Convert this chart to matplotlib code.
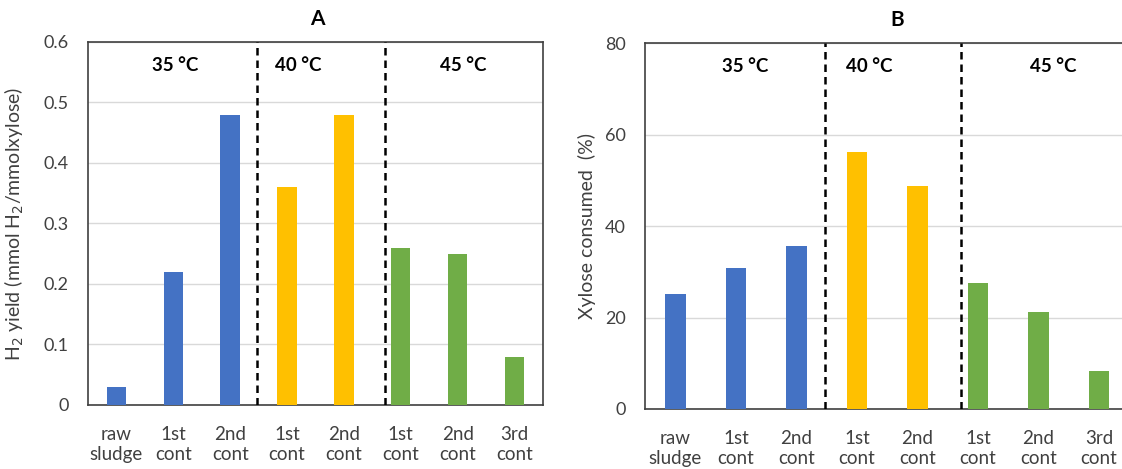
import numpy as np
import matplotlib
matplotlib.use("Agg")
import matplotlib.pyplot as plt

plt.rcParams['font.family'] = ['Lato', 'DejaVu Sans']

categories = ['raw\nsludge', '1st\ncont', '2nd\ncont', '1st\ncont', '2nd\ncont',
              '1st\ncont', '2nd\ncont', '3rd\ncont']
h2_yield = [0.03, 0.22, 0.48, 0.36, 0.48, 0.26, 0.25, 0.08]
xylose_consumed = [25.1, 30.8, 35.7, 56.2, 48.7, 27.5, 21.2, 8.2]
groups = [0, 0, 0, 1, 1, 2, 2, 2]
temp_labels = ['35 °C', '40 °C', '45 °C']

group_colors = ['#4472C4', '#FFC000', '#70AD47']
colors = [group_colors[g] for g in groups]

fig = plt.figure(figsize=(11.22, 4.69), dpi=100)
axA = fig.add_axes([0.0784, 0.1365, 0.4055, 0.774])
axB = fig.add_axes([0.5750, 0.1280, 0.4314, 0.780])

x = np.arange(len(categories))


def style(ax, values, ymax, step, fmt, ylabel, title, temp_x, title_x):
    ax.bar(x, values, width=0.34, color=colors, zorder=3)
    ax.set_xlim(-0.5, len(categories) - 0.5)
    ax.set_ylim(0, ymax)
    ticks = np.arange(0, ymax + step / 2, step)
    ax.set_yticks(ticks)
    ax.set_yticklabels([fmt(t) for t in ticks])
    ax.set_xticks(x)
    ax.set_xticklabels(categories, linespacing=1.2)
    ax.tick_params(axis='x', length=0, pad=15, labelsize=13.5, colors='#404040')
    ax.tick_params(axis='y', length=0, pad=14, labelsize=13, colors='#404040')
    ax.grid(axis='y', color='#D9D9D9', linewidth=1, zorder=0)
    for s in ax.spines.values():
        s.set_color('#404040')
        s.set_linewidth(1.2)
    for d in [2.48, 4.72]:
        ax.axvline(d, color='black', linestyle=(0, (3, 2)), linewidth=1.8, zorder=4)
    for tx, lbl in zip(temp_x, temp_labels):
        ax.text(tx, 0.935, lbl, transform=ax.get_xaxis_transform(), ha='center',
                va='center', fontsize=13.5, fontweight='bold')
    ax.set_ylabel(ylabel, fontsize=14, color='#404040')
    ax.set_title(title, fontsize=15, fontweight='bold', pad=12, x=title_x)


style(axA, h2_yield, 0.6, 0.1, lambda t: '0' if t == 0 else f'{t:.1f}',
      'H$_2$ yield (mmol H$_2$/mmolxylose)', 'A', [1.03, 3.2, 6.1], 0.505)
style(axB, xylose_consumed, 80, 20, lambda t: f'{t:.0f}',
      'Xylose consumed  (%)', 'B', [1.15, 3.2, 6.25], 0.52)
axA.yaxis.set_label_coords(-0.136, 0.5)
axB.yaxis.set_label_coords(-0.101, 0.5)

fig.savefig('out.png', dpi=100)
